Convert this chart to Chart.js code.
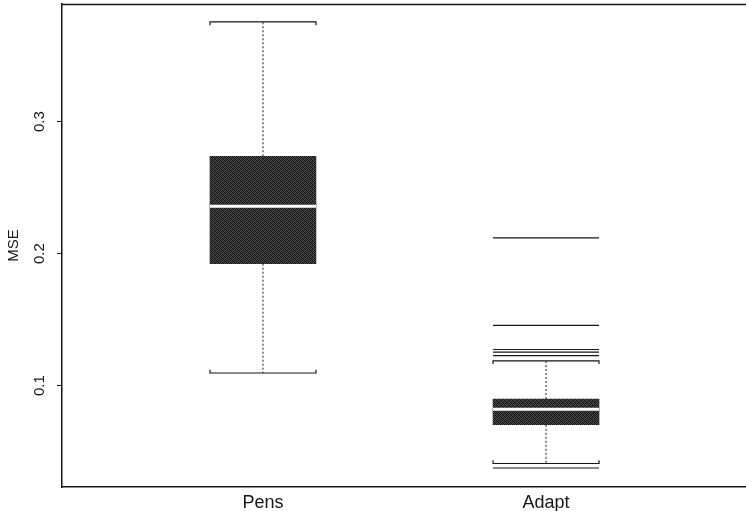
<!DOCTYPE html>
<html>
<head>
<meta charset="utf-8">
<script src="https://cdn.jsdelivr.net/npm/chart.js@4"></script>
<style>
  html, body { margin: 0; padding: 0; background: #fff; overflow: hidden; }
  #wrap { width: 750px; height: 511px; }
</style>
</head>
<body>
<div id="wrap"><canvas id="chart" width="750" height="511"></canvas></div>
<script>
// box statistics
const categories = ['Pens', 'Adapt'];
const lowerWhisker = [0.1096, 0.0411];
const q1 = [0.1924, 0.0704];
const medians = [0.2358, 0.0821];
const q3 = [0.2737, 0.0899];
const upperWhisker = [0.3754, 0.1188];
const outliers = [[], [0.2119, 0.1456, 0.1274, 0.1254, 0.1228, 0.0377]];

const yTickValues = [0.1, 0.2, 0.3];
const yTickLabels = ['0.1', '0.2', '0.3'];

const FONT = "'Liberation Sans', Arial, Helvetica, sans-serif";
const INK = '#161616';
const HALF = 0.1872;   // half box width in x units
const NOTCH = 0.0024;  // little bracket ends on the caps

// dark halftone-ish fill like the scanned boxes
function makePattern() {
    const levels = [
        [18, 66, 28, 84],
        [56, 22, 76, 32],
        [28, 90, 18, 56],
        [80, 32, 60, 22]
    ];
    const c = document.createElement('canvas');
    c.width = 4; c.height = 4;
    const g = c.getContext('2d');
    levels.forEach((row, y) => row.forEach((v, x) => {
        g.fillStyle = `rgb(${v},${v},${v})`;
        g.fillRect(x, y, 1, 1);
    }));
    return g.createPattern(c, 'repeat');
}

const lineDs = (points, extra) => Object.assign({
    type: 'line',
    data: points,
    borderColor: INK,
    borderWidth: 1.2,
    pointRadius: 0,
    fill: false,
    tension: 0,
    order: 0
}, extra);

const datasets = [{
    type: 'bar',
    data: categories.map((c, i) => ({ x: i + 1, y: [q1[i], q3[i]] })),
    backgroundColor: makePattern(),
    borderWidth: 0,
    barThickness: 106,
    order: 2
}];

categories.forEach((c, i) => {
    const x = i + 1;
    // dotted whiskers
    datasets.push(lineDs([{ x, y: q3[i] }, { x, y: upperWhisker[i] }], { borderDash: [2, 2], borderWidth: 1, order: 1 }));
    datasets.push(lineDs([{ x, y: q1[i] }, { x, y: lowerWhisker[i] }], { borderDash: [2, 2], borderWidth: 1, order: 1 }));
    // caps with small bracket ends
    datasets.push(lineDs([
        { x: x - HALF, y: upperWhisker[i] - NOTCH }, { x: x - HALF, y: upperWhisker[i] },
        { x: x + HALF, y: upperWhisker[i] }, { x: x + HALF, y: upperWhisker[i] - NOTCH }
    ]));
    datasets.push(lineDs([
        { x: x - HALF, y: lowerWhisker[i] + NOTCH }, { x: x - HALF, y: lowerWhisker[i] },
        { x: x + HALF, y: lowerWhisker[i] }, { x: x + HALF, y: lowerWhisker[i] + NOTCH }
    ]));
    // outliers drawn as horizontal lines
    outliers[i].forEach(v => {
        datasets.push(lineDs([{ x: x - HALF, y: v }, { x: x + HALF, y: v }]));
    });
    // white median
    datasets.push(lineDs([{ x: x - HALF, y: medians[i] }, { x: x + HALF, y: medians[i] }],
        { borderColor: '#ffffff', borderWidth: 3, order: -1 }));
});

const framePlugin = {
    id: 'frame',
    afterDraw(chart) {
        const { ctx, chartArea, scales } = chart;
        ctx.save();
        ctx.strokeStyle = INK;
        ctx.lineWidth = 1.5;
        ctx.beginPath();
        ctx.moveTo(chartArea.left, chartArea.top + 0.5);
        ctx.lineTo(chartArea.right, chartArea.top + 0.5);
        ctx.stroke();
        // rotated y tick labels, like the original
        const y = scales.y;
        ctx.fillStyle = INK;
        ctx.font = '15px ' + FONT;
        ctx.textAlign = 'center';
        ctx.textBaseline = 'middle';
        y.ticks.forEach((t, i) => {
            ctx.save();
            ctx.translate(40, y.getPixelForValue(t.value));
            ctx.rotate(-Math.PI / 2);
            ctx.fillText(yTickLabels[i], 0, 0);
            ctx.restore();
        });
        ctx.restore();
    }
};

new Chart(document.getElementById('chart'), {
    data: { datasets },
    options: {
        responsive: false,
        animation: false,
        layout: { padding: { top: 4, right: 3, left: 0, bottom: 0 } },
        plugins: { legend: { display: false }, tooltip: { enabled: false } },
        scales: {
            x: {
                type: 'linear',
                offset: false,
                min: 0.29,
                max: 2.71,
                afterBuildTicks: s => { s.ticks = categories.map((c, i) => ({ value: i + 1 })); },
                afterFit: s => { s.height = 24; },
                ticks: {
                    callback: v => categories[v - 1],
                    font: { size: 18, family: FONT },
                    color: INK,
                    padding: -3,
                    maxRotation: 0,
                    autoSkip: false
                },
                grid: { display: false },
                border: { display: true, color: INK, width: 1.5 }
            },
            y: {
                min: 0.0233,
                max: 0.389,
                afterBuildTicks: s => { s.ticks = yTickValues.map(v => ({ value: v })); },
                afterFit: s => { s.width = 62; },
                ticks: { display: false },
                grid: { drawOnChartArea: false, drawTicks: true, tickLength: 5, color: INK },
                border: { display: true, color: INK, width: 1.5 },
                title: {
                    display: true,
                    text: 'MSE',
                    font: { size: 15, family: FONT },
                    color: INK,
                    padding: { top: 5, bottom: 0 }
                }
            }
        }
    },
    plugins: [framePlugin]
});
</script>
</body>
</html>
